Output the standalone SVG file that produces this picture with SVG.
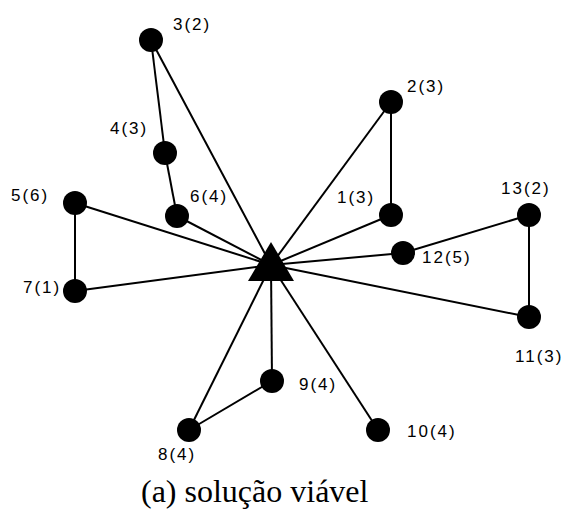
<svg xmlns="http://www.w3.org/2000/svg" width="564" height="512" viewBox="0 0 564 512">
  <style>
    .edge { stroke: #000; stroke-width: 2; fill: none; }
    .node circle { fill: #000; }
    .lbl { font-family: "Liberation Sans", Arial, sans-serif; font-size: 17px; letter-spacing: 2px; fill: #000; }
    .cap { font-family: "Liberation Serif", "Times New Roman", serif; font-size: 32px; fill: #000; }
  </style>
  <rect width="564" height="512" fill="#fff"/>
  <g id="connectors">
    <line class="edge" x1="271" y1="265" x2="151" y2="40"/>
    <line class="edge" x1="151" y1="40" x2="165" y2="153"/>
    <line class="edge" x1="165" y1="153" x2="177" y2="216"/>
    <line class="edge" x1="177" y1="216" x2="271" y2="265"/>
    <line class="edge" x1="271" y1="265" x2="75" y2="203"/>
    <line class="edge" x1="75" y1="203" x2="75" y2="291"/>
    <line class="edge" x1="75" y1="291" x2="271" y2="265"/>
    <line class="edge" x1="271" y1="265" x2="391" y2="102"/>
    <line class="edge" x1="391" y1="102" x2="391" y2="215"/>
    <line class="edge" x1="391" y1="215" x2="271" y2="265"/>
    <line class="edge" x1="271" y1="265" x2="403" y2="253"/>
    <line class="edge" x1="403" y1="253" x2="529" y2="215"/>
    <line class="edge" x1="529" y1="215" x2="529" y2="317"/>
    <line class="edge" x1="529" y1="317" x2="271" y2="265"/>
    <line class="edge" x1="271" y1="265" x2="378" y2="430"/>
    <line class="edge" x1="271" y1="265" x2="272" y2="381"/>
    <line class="edge" x1="272" y1="381" x2="189" y2="430"/>
    <line class="edge" x1="189" y1="430" x2="271" y2="265"/>
  </g>
  <g id="depot">
    <polygon points="271,242 248,281 294,281" fill="#000"/>
  </g>
  <g id="n1" class="node"><circle cx="391" cy="215" r="12"/><text class="lbl" x="337" y="203">1(3)</text></g>
  <g id="n2" class="node"><circle cx="391" cy="102" r="12"/><text class="lbl" x="407" y="92">2(3)</text></g>
  <g id="n3" class="node"><circle cx="151" cy="40" r="12"/><text class="lbl" x="173" y="30">3(2)</text></g>
  <g id="n4" class="node"><circle cx="165" cy="153" r="12"/><text class="lbl" x="110" y="134">4(3)</text></g>
  <g id="n5" class="node"><circle cx="75" cy="203" r="12"/><text class="lbl" x="11" y="201">5(6)</text></g>
  <g id="n6" class="node"><circle cx="177" cy="216" r="12"/><text class="lbl" x="190" y="202">6(4)</text></g>
  <g id="n7" class="node"><circle cx="75" cy="291" r="12"/><text class="lbl" x="23" y="293">7(1)</text></g>
  <g id="n8" class="node"><circle cx="189" cy="430" r="12"/><text class="lbl" x="158" y="460">8(4)</text></g>
  <g id="n9" class="node"><circle cx="272" cy="381" r="12"/><text class="lbl" x="299" y="390">9(4)</text></g>
  <g id="n10" class="node"><circle cx="378" cy="430" r="12"/><text class="lbl" x="407" y="437">10(4)</text></g>
  <g id="n11" class="node"><circle cx="529" cy="317" r="12"/><text class="lbl" x="515" y="362">11(3)</text></g>
  <g id="n12" class="node"><circle cx="403" cy="253" r="12"/><text class="lbl" x="422" y="263">12(5)</text></g>
  <g id="n13" class="node"><circle cx="529" cy="215" r="12"/><text class="lbl" x="501" y="194">13(2)</text></g>
  <text class="cap" x="141" y="502">(a) solução viável</text>
</svg>
